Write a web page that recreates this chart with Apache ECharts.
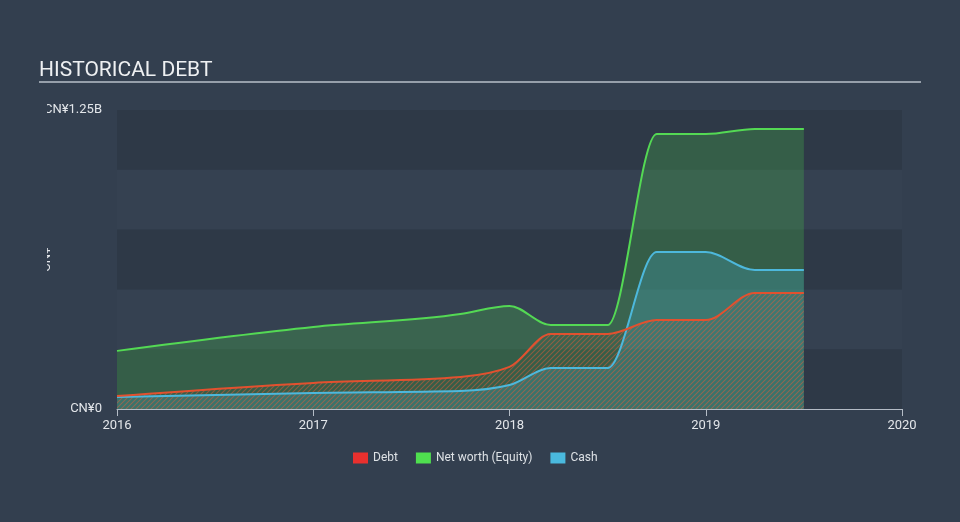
<!DOCTYPE html>
<html>
<head>
<meta charset="utf-8">
<script src="https://cdn.jsdelivr.net/npm/echarts@6/dist/echarts.min.js"></script>
<style>
html,body{margin:0;padding:0;background:#333f4f;}
#c{width:960px;height:522px;}
</style>
</head>
<body>
<div id="c"></div>
<script>
// Decimal years (x positions)
const years = [2016.0, 2017.0, 2017.75, 2018.0, 2018.21, 2018.5, 2018.75, 2019.0, 2019.25, 2019.5];
// Values in CNY
const equity = [0.243e9, 0.343e9, 0.397e9, 0.431e9, 0.351e9, 0.351e9, 1.150e9, 1.150e9, 1.171e9, 1.171e9];
const debt   = [0.054e9, 0.109e9, 0.134e9, 0.176e9, 0.314e9, 0.314e9, 0.372e9, 0.372e9, 0.485e9, 0.485e9];
const cash   = [0.050e9, 0.067e9, 0.075e9, 0.100e9, 0.171e9, 0.171e9, 0.656e9, 0.656e9, 0.581e9, 0.581e9];
const xTickLabels = ['2016', '2017', '2018', '2019', '2020'];
const yTickLabels = {0: 'CN¥0', 1250000000: 'CN¥1.25B'};
const legendNames = ['Debt', 'Net worth (Equity)', 'Cash'];

function zip(xs, ys){ return xs.map((x,i)=>[x, ys[i]]); }

// Monotone cubic (monotone-x) path through pixel points
function monotonePath(pts){
  const n = pts.length;
  const h = [], s = [], t = new Array(n).fill(0);
  for (let i = 0; i < n - 1; i++) {
    h[i] = pts[i+1][0] - pts[i][0];
    s[i] = h[i] ? (pts[i+1][1] - pts[i][1]) / h[i] : 0;
  }
  for (let i = 1; i < n - 1; i++) {
    const h0 = h[i-1], h1 = h[i], s0 = s[i-1], s1 = s[i];
    const p = (s0 * h1 + s1 * h0) / (h0 + h1);
    t[i] = (Math.sign(s0) + Math.sign(s1)) * Math.min(Math.abs(s0), Math.abs(s1), 0.5 * Math.abs(p)) || 0;
  }
  if (n > 2) {
    t[0] = (3 * s[0] - t[1]) / 2;
    t[n-1] = (3 * s[n-2] - t[n-2]) / 2;
  } else { t[0] = t[1] = s[0]; }
  let d = 'M' + pts[0][0] + ' ' + pts[0][1];
  for (let i = 0; i < n - 1; i++) {
    const dx = h[i] / 3;
    d += ' C' + (pts[i][0] + dx) + ' ' + (pts[i][1] + dx * t[i]) + ' ' +
         (pts[i+1][0] - dx) + ' ' + (pts[i+1][1] - dx * t[i+1]) + ' ' +
         pts[i+1][0] + ' ' + pts[i+1][1];
  }
  return d;
}

function makeHatch(){
  const sz = 5;
  const c = document.createElement('canvas');
  c.width = sz; c.height = sz;
  const g = c.getContext('2d');
  g.strokeStyle = 'rgba(228,92,60,0.5)';
  g.lineWidth = 1.1;
  g.beginPath();
  g.moveTo(0, sz); g.lineTo(sz, 0);
  g.moveTo(-1, 1); g.lineTo(1, -1);
  g.moveTo(sz-1, sz+1); g.lineTo(sz+1, sz-1);
  g.stroke();
  return c;
}

// mode: 'area' or 'line'
function curveSeries(name, xs, ys, mode, paint, legendColor, z){
  return {
    name: name, type: 'custom', z: z,
    itemStyle: {color: legendColor},
    data: zip(xs, ys),
    encode: {x: 0, y: 1},
    renderItem: function(params, api){
      if (params.dataIndex !== 0) return null;
      const pts = xs.map((x, i) => api.coord([x, ys[i]]));
      const base = api.coord([xs[0], 0])[1];
      const line = monotonePath(pts);
      if (mode === 'area') {
        const area = line + ' L' + pts[pts.length-1][0] + ' ' + base + ' L' + pts[0][0] + ' ' + base + ' Z';
        return {type: 'path', shape: {pathData: area}, style: {fill: paint, stroke: 'none'}};
      }
      return {type: 'path', shape: {pathData: line}, style: {fill: 'none', stroke: paint, lineWidth: 2}};
    }
  };
}

const chart = echarts.init(document.getElementById('c'), null, {renderer: 'canvas'});
const bg = '#333f4f';
chart.setOption({
  backgroundColor: bg,
  textStyle: {fontFamily: 'Roboto, "Open Sans", sans-serif'},
  animation: false,
  title: {
    text: 'HISTORICAL DEBT',
    left: 34, top: 55,
    textStyle: {color: '#eef0f2', fontSize: 21, fontWeight: 'normal', fontFamily: 'Roboto'}
  },
  legend: {
    data: legendNames,
    bottom: 53,
    left: 348,
    icon: 'rect',
    itemWidth: 15, itemHeight: 11, itemGap: 18,
    textStyle: {color: '#dde1e5', fontSize: 12},
    selectedMode: false
  },
  grid: {left: 117, right: 58, top: 110, bottom: 113},
  xAxis: {
    type: 'value',
    min: 2016, max: 2020, interval: 1,
    axisLine: {show: true, lineStyle: {color: '#b4bcc6', width: 1}},
    axisTick: {show: true, length: 7, lineStyle: {color: '#b4bcc6'}},
    axisLabel: {color: '#e3e6ea', fontSize: 13, margin: 10,
      formatter: v => xTickLabels[Math.round(v - 2016)] || ''},
    splitLine: {show: false}
  },
  yAxis: {
    type: 'value',
    min: 0, max: 1.25e9, interval: 0.25e9,
    name: 'CN¥',
    nameLocation: 'middle',
    nameGap: 64,
    nameMoveOverlap: false,
    nameTextStyle: {color: '#e3e6ea', fontSize: 13},
    axisLine: {show: false},
    axisTick: {show: false},
    axisLabel: {
      color: '#e3e6ea', fontSize: 13, margin: 15,
      formatter: v => (yTickLabels[v] !== undefined ? yTickLabels[v] : '')
    },
    splitLine: {show: false},
    splitArea: {show: true, areaStyle: {color: ['rgba(0,0,0,0.09)', 'rgba(255,255,255,0.012)']}}
  },
  graphic: [
    {type: 'line', shape: {x1: 39, y1: 82, x2: 921, y2: 82}, style: {stroke: '#b9c0c8', lineWidth: 1.5}, z: 100},
    {type: 'rect', shape: {x: 0, y: 96, width: 47, height: 330}, style: {fill: bg}, z: 100}
  ],
  series: [
    curveSeries('Net worth (Equity)', years, equity, 'area', 'rgba(76,208,76,0.25)', '#4fdf4f', 2),
    curveSeries('Cash', years, cash, 'area', 'rgba(72,184,220,0.24)', '#4ab9de', 2),
    curveSeries('Debt', years, debt, 'area', {image: makeHatch(), repeat: 'repeat'}, '#e9302e', 2),
    curveSeries('Net worth (Equity)', years, equity, 'line', '#54d954', '#4fdf4f', 3),
    curveSeries('Cash', years, cash, 'line', '#4db8dc', '#4ab9de', 3),
    curveSeries('Debt', years, debt, 'line', '#e2512f', '#e9302e', 3)
  ]
});
</script>
</body>
</html>
